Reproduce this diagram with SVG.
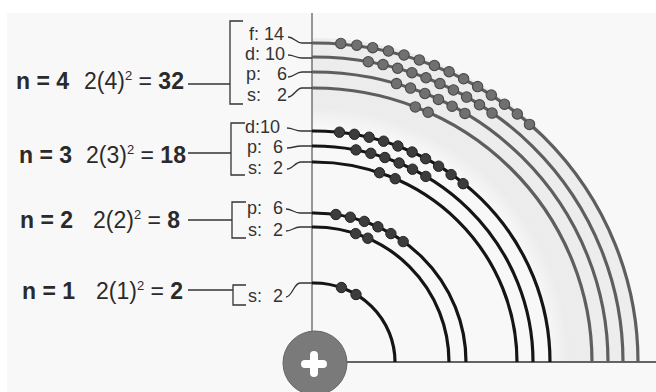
<svg xmlns="http://www.w3.org/2000/svg" width="656" height="392" viewBox="0 0 656 392">
<style>
text{font-family:"Liberation Sans",Arial,sans-serif;fill:#2a2a2a}
.big{font-size:23px}
.b{font-weight:bold}
.sup{font-size:13px}
.sub{font-size:18px;fill:#333}
.thin{fill:none;stroke:#333;stroke-width:1.3}
.a3{fill:none;stroke:#151515;stroke-width:3.2}
.a4{fill:none;stroke:#5e5e5e;stroke-width:3.2}
.e3 circle{fill:#3c3c3c;stroke:#222;stroke-width:1}
.e4 circle{fill:#707070;stroke:#4a4a4a;stroke-width:1.1}
</style>
<defs>
<radialGradient id="band" gradientUnits="userSpaceOnUse" cx="314" cy="362" r="326">
<stop offset="0.72" stop-color="#f8f8f8"/>
<stop offset="0.78" stop-color="#ececec"/>
<stop offset="1" stop-color="#ededed"/>
</radialGradient>
</defs>
<rect width="656" height="392" fill="#fff"/>
<rect x="7" y="13" width="649" height="379" fill="#f8f8f8"/>
<path d="M312 38 H314 A324 324 0 0 1 638 362 L548 362 A234 234 0 0 0 314 128 H312 Z" fill="url(#band)"/>
<line x1="312" y1="13" x2="312" y2="332" stroke="#555" stroke-width="1.2"/>
<line x1="346" y1="362" x2="656" y2="362" stroke="#333" stroke-width="1.3"/>

<g id="nucleus">
<circle cx="315" cy="363" r="32" fill="#7a7a7a" stroke="#666" stroke-width="1"/>
<path d="M305 364 H323 M314 355 V373" stroke="#fff" stroke-width="8" stroke-linecap="round"/>
</g>

<g id="labels-n4">
<text class="big b" x="16" y="89">n = 4</text>
<text class="big" x="84" y="89">2(4)<tspan class="sup" dy="-9">2</tspan><tspan dy="9"> = </tspan><tspan class="b">32</tspan></text>
<text class="sub" x="249" y="40">f: 14</text>
<text class="sub" x="245" y="60">d: 10</text>
<text class="sub" x="246" y="80">p:<tspan x="277">6</tspan></text>
<text class="sub" x="247" y="101">s:<tspan x="277">2</tspan></text>
</g>
<g id="labels-n3">
<text class="big b" x="19" y="163">n = 3</text>
<text class="big" x="86" y="163">2(3)<tspan class="sup" dy="-9">2</tspan><tspan dy="9"> = </tspan><tspan class="b">18</tspan></text>
<text class="sub" x="245" y="133">d:10</text>
<text class="sub" x="247" y="153">p:<tspan x="273">6</tspan></text>
<text class="sub" x="248" y="174">s:<tspan x="273">2</tspan></text>
</g>
<g id="labels-n2">
<text class="big b" x="20" y="228">n = 2</text>
<text class="big" x="93" y="228">2(2)<tspan class="sup" dy="-9">2</tspan><tspan dy="9"> = </tspan><tspan class="b">8</tspan></text>
<text class="sub" x="247" y="214">p:<tspan x="273">6</tspan></text>
<text class="sub" x="248" y="236">s:<tspan x="273">2</tspan></text>
</g>
<g id="labels-n1">
<text class="big b" x="22" y="299">n = 1</text>
<text class="big" x="96" y="299">2(1)<tspan class="sup" dy="-9">2</tspan><tspan dy="9"> = </tspan><tspan class="b">2</tspan></text>
<text class="sub" x="248" y="302">s:<tspan x="273">2</tspan></text>
</g>

<g id="connectors">
<path class="thin" d="M188 84 H230 M243 21 H230 V104 H243"/>
<path class="thin" d="M188 153 H231 M245 123 H231 V175 H245"/>
<path class="thin" d="M188 220 H232 M246 202 H232 V238 H246"/>
<path class="thin" d="M188 290 H233 M246 285 H233 V305 H246"/>
<path class="thin" d="M288 37 C294 37 296 43 302 43 H312"/>
<path class="thin" d="M288 55 C294 55 296 58 302 58 H312"/>
<path class="thin" d="M288 77 C294 77 296 72 302 72 H312"/>
<path class="thin" d="M288 97 C294 97 296 88 302 88 H312"/>
<path class="thin" d="M287 128 C293 128 295 131 301 131 H312"/>
<path class="thin" d="M287 148 C293 148 295 146 301 146 H312"/>
<path class="thin" d="M287 169 C293 169 295 162 301 162 H312"/>
<path class="thin" d="M286 209 C292 209 294 213 300 213 H312"/>
<path class="thin" d="M286 231 C292 231 294 227 300 227 H312"/>
<path class="thin" d="M286 297 C292 297 294 283 300 283 H312"/>
</g>

<g id="n1s">
<path class="a3" d="M312 283 H314 A81 79 0 0 1 395 362"/>
<g class="e3"><circle cx="341.4" cy="287.5" r="5.2"/><circle cx="356" cy="294.5" r="5.2"/></g>
</g>
<g id="n2s">
<path class="a3" d="M312 227 H314 A135 135 0 0 1 449 362"/>
<g class="e3"><circle cx="355.7" cy="233.6" r="5.2"/><circle cx="367.8" cy="238.2" r="5.2"/></g>
</g>
<g id="n2p">
<path class="a3" d="M312 213 H314 A152 149 0 0 1 466 362"/>
<g class="e3" transform="translate(1,1)"><circle cx="334.9" cy="213.5" r="5.2"/><circle cx="349.3" cy="216.2" r="5.2"/><circle cx="363.3" cy="220.4" r="5.2"/><circle cx="376.9" cy="225.8" r="5.2"/><circle cx="389.9" cy="232.6" r="5.2"/><circle cx="402.2" cy="240.6" r="5.2"/></g>
</g>
<g id="n3s">
<path class="a3" d="M312 162 H314 A203 200 0 0 1 517 362"/>
<g class="e3" transform="translate(1,1)"><circle cx="378.5" cy="171.7" r="5.2"/><circle cx="394.2" cy="177.7" r="5.2"/></g>
</g>
<g id="n3p">
<path class="a3" d="M312 146 H314 A219 216 0 0 1 533 362"/>
<g class="e3" transform="translate(1,1)"><circle cx="355" cy="148.9" r="5.2"/><circle cx="369.8" cy="152.3" r="5.2"/><circle cx="383.9" cy="156.5" r="5.2"/><circle cx="398.1" cy="162" r="5.2"/><circle cx="411.5" cy="168.2" r="5.2"/><circle cx="424.8" cy="175.4" r="5.2"/></g>
</g>
<g id="n3d">
<path class="a3" d="M312 131 H314 A236 231 0 0 1 550 362"/>
<g class="e3" transform="translate(1.5,2)"><circle cx="338" cy="130.2" r="5.2"/><circle cx="352.9" cy="132.3" r="5.2"/><circle cx="367.6" cy="135.2" r="5.2"/><circle cx="382.1" cy="139.2" r="5.2"/><circle cx="396.4" cy="144" r="5.2"/><circle cx="410.6" cy="150" r="5.2"/><circle cx="424.1" cy="156.7" r="5.2"/><circle cx="437.1" cy="164.2" r="5.2"/><circle cx="449.6" cy="172.6" r="5.2"/><circle cx="461.6" cy="181.7" r="5.2"/></g>
</g>
<g id="n4s">
<path class="a4" d="M312 88 H314 A278 274 0 0 1 592 362"/>
<g class="e4" transform="translate(1,2)"><circle cx="414.3" cy="104.9" r="5.2"/><circle cx="427.1" cy="110.3" r="5.2"/></g>
</g>
<g id="n4p">
<path class="a4" d="M312 72 H314 A294 290 0 0 1 608 362"/>
<g class="e4" transform="translate(1,2)"><circle cx="395.5" cy="81.6" r="5.2"/><circle cx="409.5" cy="86.1" r="5.2"/><circle cx="423.9" cy="91.5" r="5.2"/><circle cx="437.4" cy="97.4" r="5.2"/><circle cx="451.1" cy="104.2" r="5.2"/><circle cx="463.9" cy="111.4" r="5.2"/></g>
</g>
<g id="n4d">
<path class="a4" d="M312 57 H314 A309 305 0 0 1 623 362"/>
<g class="e4" transform="translate(1,2)"><circle cx="367.3" cy="59.7" r="5.2"/><circle cx="382" cy="62.6" r="5.2"/><circle cx="396.6" cy="66.3" r="5.2"/><circle cx="410.9" cy="70.7" r="5.2"/><circle cx="425" cy="75.8" r="5.2"/><circle cx="438.9" cy="81.6" r="5.2"/><circle cx="452.4" cy="88" r="5.2"/><circle cx="465.6" cy="95.1" r="5.2"/><circle cx="478.5" cy="102.8" r="5.2"/><circle cx="491" cy="111.1" r="5.2"/></g>
</g>
<g id="n4f">
<path class="a4" d="M312 43 H314 A324 319 0 0 1 638 362"/>
<g class="e4" transform="translate(1,2.5)"><circle cx="339.8" cy="41" r="5.2"/><circle cx="355.8" cy="42.7" r="5.2"/><circle cx="371.7" cy="45.2" r="5.2"/><circle cx="387.4" cy="48.5" r="5.2"/><circle cx="403" cy="52.5" r="5.2"/><circle cx="418.3" cy="57.4" r="5.2"/><circle cx="433.4" cy="63" r="5.2"/><circle cx="448.1" cy="69.3" r="5.2"/><circle cx="462.6" cy="76.3" r="5.2"/><circle cx="476.6" cy="84.1" r="5.2"/><circle cx="490.3" cy="92.6" r="5.2"/><circle cx="503.5" cy="101.7" r="5.2"/><circle cx="516.3" cy="111.5" r="5.2"/><circle cx="528.5" cy="121.9" r="5.2"/></g>
</g>
</svg>
